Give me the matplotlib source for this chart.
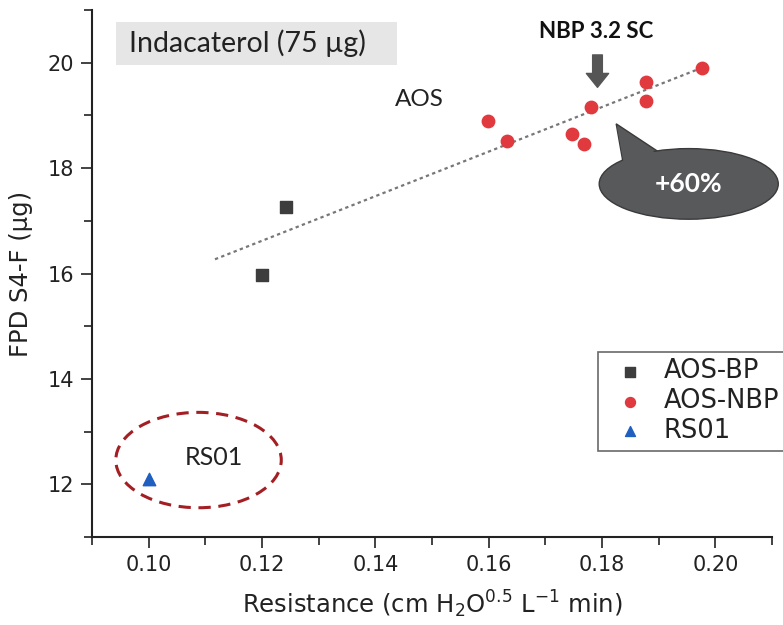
import numpy as np
import matplotlib
matplotlib.use('Agg')
import matplotlib.pyplot as plt
from matplotlib.patches import Ellipse, Polygon, Rectangle

# measured points
bp_x = [0.120, 0.1242]
bp_y = [15.98, 17.26]
nbp_x = [0.1599, 0.1632, 0.1747, 0.1769, 0.1781, 0.1878, 0.1878, 0.1977]
nbp_y = [18.90, 18.51, 18.65, 18.46, 19.16, 19.64, 19.28, 19.89]
rs_x = [0.100]
rs_y = [12.10]

# linear fit line over the AOS devices
fit_x = [0.1117, 0.198]
fit_y = [16.27, 19.92]

xticks = [0.10, 0.12, 0.14, 0.16, 0.18, 0.20]
yticks = [12, 14, 16, 18, 20]

plt.rcParams['font.family'] = ['DejaVu Sans']
note_font = ['Lato', 'DejaVu Sans']
ink = '#222222'

fig = plt.figure(figsize=(7.83, 6.25), dpi=100)
ax = fig.add_axes([0.1175, 0.1408, 0.8685, 0.8432])

ax.plot(fit_x, fit_y, ls=(0, (1.5, 1.5)), color='#777777', lw=1.6, zorder=2)
ax.scatter(bp_x, bp_y, marker='s', s=70, color='#3d3d3d', label='AOS-BP', zorder=3)
ax.scatter(nbp_x, nbp_y, marker='o', s=80, color='#e0393e', label='AOS-NBP', zorder=3)
ax.scatter(rs_x, rs_y, marker='^', s=80, color='#1f5fbf', label='RS01', zorder=3)

ax.set_xlim(0.09, 0.21)
ax.set_ylim(11, 21)
ax.set_xticks(xticks)
ax.set_xticklabels(['%.2f' % v for v in xticks])
ax.set_yticks(yticks)
ax.set_xticks(np.arange(0.09, 0.211, 0.01), minor=True)
ax.set_yticks(np.arange(11, 21.1, 1), minor=True)
ax.tick_params(which='major', direction='out', length=8, width=1.2, labelsize=15, colors=ink, pad=5)
ax.tick_params(which='minor', direction='out', length=6, width=1.2, colors=ink)
for side in ['top', 'right']:
    ax.spines[side].set_visible(False)
for side in ['left', 'bottom']:
    ax.spines[side].set_linewidth(1.5)
    ax.spines[side].set_color(ink)

ax.set_xlabel('Resistance (cm H$_2$O$^{0.5}$ L$^{-1}$ min)', fontsize=17.5, color=ink, labelpad=10)
ax.set_ylabel('FPD S4-F (\u00b5g)', fontsize=17.5, color=ink, labelpad=10)

# title box
ax.add_patch(Rectangle((0.0942, 19.96), 0.0496, 0.82, fc='#e6e6e6', ec='none', zorder=1, clip_on=False))
ax.text(0.0966, 20.37, 'Indacaterol (75 \u00b5g)', fontsize=20.5, family=note_font, va='center', ha='left',
        color=ink, zorder=2)
ax.text(0.1477, 19.31, 'AOS', fontsize=17.5, family=note_font, ha='center', va='center', color=ink)
ax.text(0.1789, 20.59, 'NBP 3.2 SC', fontsize=16, family=note_font, weight='bold', ha='center', va='center',
        color='#111111')
ax.annotate('', xy=(0.1792, 19.48), xytext=(0.1792, 20.2),
            arrowprops=dict(arrowstyle='simple,head_width=1.6,head_length=1.0,tail_width=0.7',
                            fc='#555555', ec='#555555'))

# callout bubble
ax.add_patch(Polygon([(0.1825, 18.84), (0.1838, 18.05), (0.1915, 18.2)], closed=True,
                     fc='#58595b', ec='#3a3a3a', lw=1, zorder=4, clip_on=False))
ax.add_patch(Ellipse((0.1953, 17.70), 0.0316, 1.34, fc='#58595b', ec='#3a3a3a', lw=1, zorder=4, clip_on=False))
ax.add_patch(Polygon([(0.1826, 18.80), (0.1840, 18.0), (0.1913, 18.15)], closed=True,
                     fc='#58595b', ec='none', zorder=5, clip_on=False))
ax.text(0.1953, 17.70, '+60%', fontsize=19, family=note_font, weight='bold', color='white',
        ha='center', va='center', zorder=6)

# RS01 highlight
ax.add_patch(Ellipse((0.1088, 12.46), 0.0292, 1.81, fill=False, ec='#a31f24', lw=2.2, ls=(0, (4, 2.5)),
                     zorder=2))
ax.text(0.1115, 12.5, 'RS01', fontsize=18, family=note_font, ha='center', va='center', color=ink)

leg = ax.legend(loc='upper left', bbox_to_anchor=(0.744, 0.351), fontsize=18.5, frameon=True,
                fancybox=False, edgecolor='#444444', handletextpad=0.3, borderpad=0.25,
                labelspacing=0.15, handlelength=2.0, borderaxespad=0, markerscale=0.8)
leg.get_frame().set_linewidth(1.2)
for t in leg.get_texts():
    t.set_color(ink)

fig.savefig('out.png', dpi=100)
